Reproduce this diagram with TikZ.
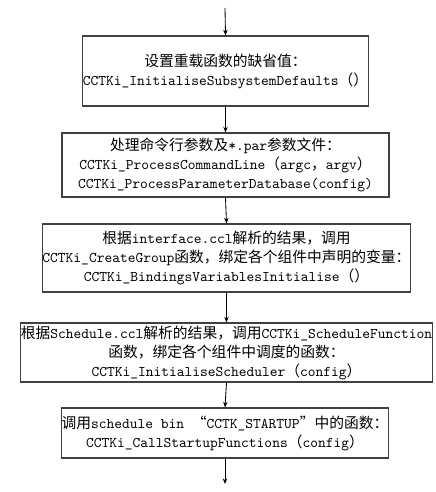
\documentclass[tikz,border=0pt]{standalone}
\usepackage{fontspec}
\setmainfont{Noto Sans CJK SC}
\usepackage{tikz}
\usetikzlibrary{arrows.meta, positioning}
\newcommand{\fn}[1]{{\ttfamily #1}}

\begin{document}
\begin{tikzpicture}[
    x=0.025cm, y=-0.025cm,
    font=\fontsize{10.5}{13.5}\selectfont,
    stage/.style={draw=black!75, line width=0.8pt, align=center, inner sep=0pt},
    flow/.style={-{Stealth[length=4pt, width=3.2pt]}, line width=0.6pt}
  ]
  \useasboundingbox (0,0) rectangle (435,492);

  % Stages of the startup
  \node[stage, minimum width=6.775cm, minimum height=1.75cm] (defaults) at (225.5,71)
    {设置重载函数的缺省值：\\ \fn{CCTKi\_InitialiseSubsystemDefaults}（）};
  \node[stage, minimum width=8.175cm, minimum height=1.6cm] (cmdline) at (225.5,165)
    {处理命令行参数及\fn{*.par}参数文件：\\
     \fn{CCTKi\_ProcessCommandLine}（\fn{argc}，\fn{argv}）\\
     \fn{CCTKi\_ProcessParameterDatabase(config)}};
  \node[stage, minimum width=9.175cm, minimum height=1.7cm] (bindings) at (226.5,258)
    {根据\fn{interface.ccl}解析的结果，调用\\
     \fn{CCTKi\_CreateGroup}函数，绑定各个组件中声明的变量：\\
     \fn{CCTKi\_BindingsVariablesInitialise}（）};
  \node[stage, minimum width=10.075cm, minimum height=1.475cm] (scheduler) at (226.5,352.5)
    {根据\fn{Schedule.ccl}解析的结果，调用\fn{CCTKi\_ScheduleFunction}\\
     函数，绑定各个组件中调度的函数：\\
     \fn{CCTKi\_InitialiseScheduler}（\fn{config}）};
  \node[stage, minimum width=8.05cm, minimum height=1.25cm] (startup) at (225,433)
    {调用\fn{schedule bin\ }“\fn{CCTK\_STARTUP}”中的函数：\\
     \fn{CCTKi\_CallStartupFunctions}（\fn{config}）};

  % Arrows
  \coordinate (entry) at (225,8);
  \coordinate (exit) at (225,484);
  \draw[flow] (entry) -- (defaults.north);
  \draw[flow] (defaults.south) -- (cmdline.north);
  \draw[flow] (cmdline.south) -- (bindings.north);
  \draw[flow] (bindings.south) -- (scheduler.north);
  \draw[flow] (scheduler.south) -- (startup.north);
  \draw[flow] (startup.south) -- (exit);

\end{tikzpicture}
\end{document}
